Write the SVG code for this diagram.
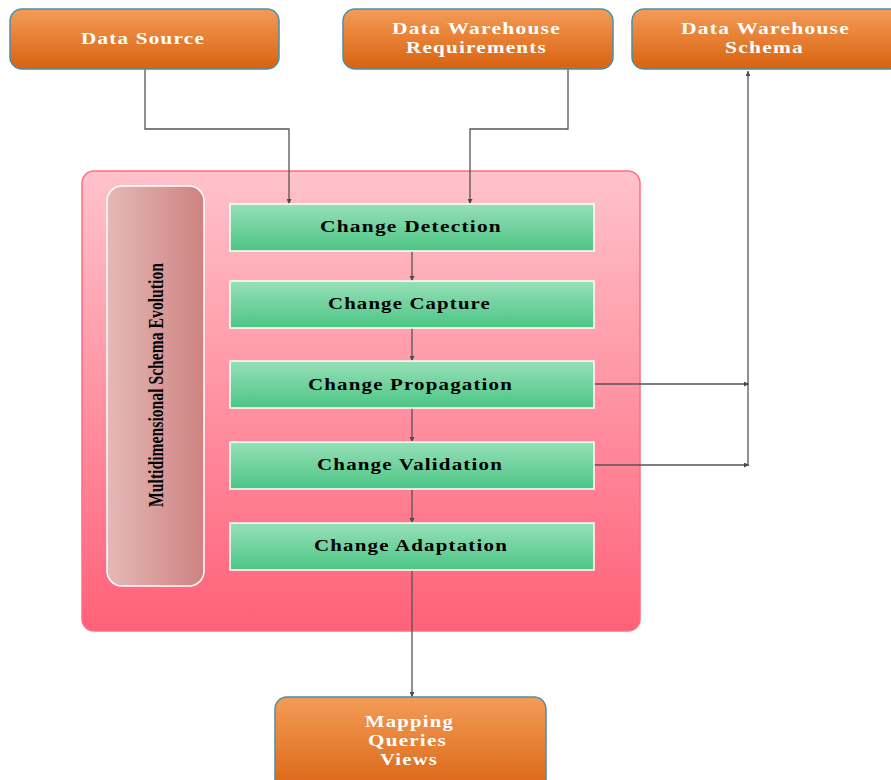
<svg xmlns="http://www.w3.org/2000/svg" width="891" height="780" viewBox="0 0 891 780">
  <defs>
    <linearGradient id="orange" x1="0" y1="0" x2="0" y2="1">
      <stop offset="0" stop-color="#f39c57"/>
      <stop offset="1" stop-color="#d9620f"/>
    </linearGradient>
    <linearGradient id="pink" x1="0" y1="0" x2="0" y2="1">
      <stop offset="0" stop-color="#ffc3cb"/>
      <stop offset="1" stop-color="#ff6179"/>
    </linearGradient>
    <linearGradient id="rose" x1="0" y1="0" x2="1" y2="0">
      <stop offset="0" stop-color="#e4b9b7"/>
      <stop offset="1" stop-color="#ce8280"/>
    </linearGradient>
    <linearGradient id="green" x1="0" y1="0" x2="0" y2="1">
      <stop offset="0" stop-color="#97e0b8"/>
      <stop offset="1" stop-color="#4cc585"/>
    </linearGradient>
    <marker id="arrow" viewBox="0 0 8 8" refX="8" refY="4" markerWidth="5" markerHeight="5" orient="auto" markerUnits="userSpaceOnUse">
      <path d="M0,0 L8,4 L0,8 z" fill="#4a4a4a"/>
    </marker>
  </defs>
  <style>
    .term { fill: url(#orange); stroke: #4b8fa6; stroke-width: 1.5; }
    .step { fill: url(#green); stroke: #ffffff; stroke-width: 1.5; }
    .wt { font-family: "Liberation Serif", serif; font-weight: bold; font-size: 17px; fill: #ffffff; text-anchor: middle; letter-spacing: 1px; }
    .bt { font-family: "Liberation Serif", serif; font-weight: bold; font-size: 17.5px; fill: #000000; text-anchor: middle; letter-spacing: 1px; }
    .conn { fill: none; stroke: #555555; stroke-width: 1.3; }
  </style>

  <!-- container -->
  <g id="container">
    <rect x="82" y="171" width="558" height="460" rx="12" fill="url(#pink)" stroke="#ff6d83" stroke-width="1.5"/>
    <rect x="107" y="186" width="97" height="400" rx="15" fill="url(#rose)" stroke="#ffffff" stroke-width="1.5"/>
    <text transform="translate(163,385) rotate(-90)" font-family="Liberation Serif, serif" font-weight="bold" font-size="22" fill="#000" text-anchor="middle" textLength="244" lengthAdjust="spacingAndGlyphs">Multidimensional Schema Evolution</text>
  </g>

  <!-- connectors -->
  <g id="connectors">
    <path class="conn" d="M145,69 V129 H289 V204" marker-end="url(#arrow)"/>
    <path class="conn" d="M568,69 V129 H470 V204" marker-end="url(#arrow)"/>
    <path class="conn" d="M412,251 V281" marker-end="url(#arrow)"/>
    <path class="conn" d="M412,328 V361" marker-end="url(#arrow)"/>
    <path class="conn" d="M412,408 V442" marker-end="url(#arrow)"/>
    <path class="conn" d="M412,489 V523" marker-end="url(#arrow)"/>
    <path class="conn" d="M412,570 V697" marker-end="url(#arrow)"/>
    <path class="conn" d="M594,384 H749" marker-end="url(#arrow)"/>
    <path class="conn" d="M594,465 H749" marker-end="url(#arrow)"/>
    <path class="conn" d="M748,465 V71" stroke-width="2" marker-end="url(#arrow)"/>
  </g>

  <g id="data-source">
    <rect class="term" x="10" y="9" width="269" height="60" rx="12"/>
    <text class="wt" x="143" y="44" textLength="124" lengthAdjust="spacingAndGlyphs">Data Source</text>
  </g>
  <g id="dw-requirements">
    <rect class="term" x="343" y="9" width="270" height="60" rx="12"/>
    <text class="wt" x="476.5" y="34" textLength="169" lengthAdjust="spacingAndGlyphs">Data Warehouse</text>
    <text class="wt" x="476.5" y="53" textLength="141" lengthAdjust="spacingAndGlyphs">Requirements</text>
  </g>
  <g id="dw-schema">
    <rect class="term" x="632" y="9" width="272" height="60" rx="12"/>
    <text class="wt" x="765.5" y="34" textLength="169" lengthAdjust="spacingAndGlyphs">Data Warehouse</text>
    <text class="wt" x="764.5" y="53" textLength="79" lengthAdjust="spacingAndGlyphs">Schema</text>
  </g>

  <g id="change-detection">
    <rect class="step" x="230" y="204" width="364" height="47"/>
    <text class="bt" x="411" y="232" textLength="182" lengthAdjust="spacingAndGlyphs">Change Detection</text>
  </g>
  <g id="change-capture">
    <rect class="step" x="230" y="281" width="364" height="47"/>
    <text class="bt" x="409.5" y="309" textLength="163" lengthAdjust="spacingAndGlyphs">Change Capture</text>
  </g>
  <g id="change-propagation">
    <rect class="step" x="230" y="361" width="364" height="47"/>
    <text class="bt" x="410.5" y="390" textLength="205" lengthAdjust="spacingAndGlyphs">Change Propagation</text>
  </g>
  <g id="change-validation">
    <rect class="step" x="230" y="442" width="364" height="47"/>
    <text class="bt" x="410" y="470" textLength="186" lengthAdjust="spacingAndGlyphs">Change Validation</text>
  </g>
  <g id="change-adaptation">
    <rect class="step" x="230" y="523" width="364" height="47"/>
    <text class="bt" x="411" y="551" textLength="194" lengthAdjust="spacingAndGlyphs">Change Adaptation</text>
  </g>

  <g id="mapping">
    <rect class="term" x="275" y="697" width="271" height="100" rx="12"/>
    <text class="wt" x="409.5" y="727" textLength="89" lengthAdjust="spacingAndGlyphs">Mapping</text>
    <text class="wt" x="407.5" y="746" textLength="79" lengthAdjust="spacingAndGlyphs">Queries</text>
    <text class="wt" x="409" y="765" textLength="58" lengthAdjust="spacingAndGlyphs">Views</text>
  </g>
</svg>
